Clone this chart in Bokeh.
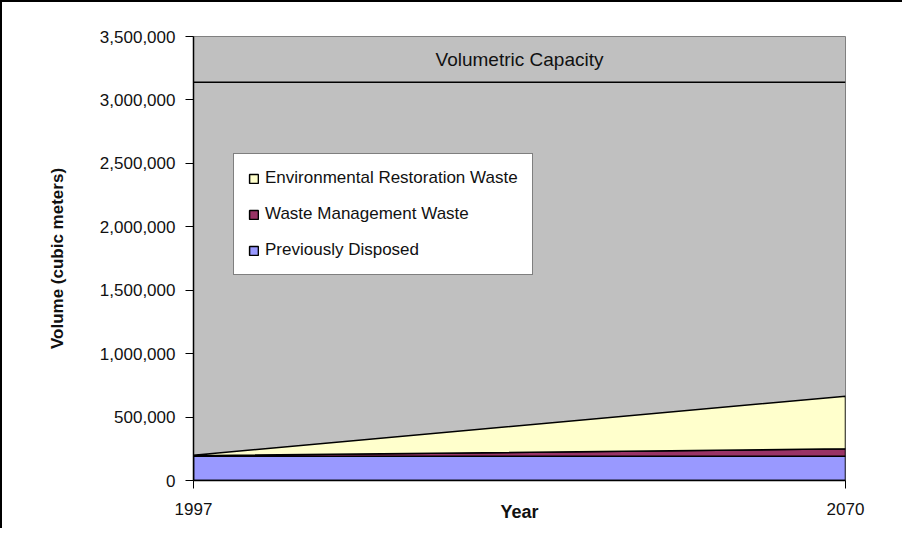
import numpy as np
from bokeh.plotting import figure
from bokeh.models import NumeralTickFormatter, FixedTicker, Legend, LegendItem
from bokeh.core.properties import value
from bokeh.embed import file_html
from bokeh.resources import INLINE

# ---- data ----
years = [1997, 2070]
previously_disposed = [192000, 192000]
waste_management = [3000, 58000]
environmental_restoration = [5000, 415000]
volumetric_capacity = 3140000
y_ticks = [0, 500000, 1000000, 1500000, 2000000, 2500000, 3000000, 3500000]
series_names = ["Previously Disposed", "Waste Management Waste", "Environmental Restoration Waste"]
series_colors = ["#9999FF", "#993366", "#FFFFCC"]

FONT = "Liberation Sans"

p = figure(width=902, height=528, output_backend="svg", toolbar_location=None,
           x_range=(years[0], years[-1]), y_range=(y_ticks[0], y_ticks[-1]),
           min_border_left=191, min_border_top=34, min_border_right=59, min_border_bottom=50)
p.styles = {"border-top": "2px solid black", "border-left": "2px solid black"}
p.background_fill_color = "#C0C0C0"
p.border_fill_color = "white"
p.outline_line_color = "#808080"
p.outline_line_width = 1
p.xgrid.visible = False
p.ygrid.visible = False

# stacked areas
x = np.array(years, dtype=float)
series = [np.array(previously_disposed, float), np.array(waste_management, float),
          np.array(environmental_restoration, float)]
base = np.zeros_like(x)
renderers = []
for vals, name, col in zip(series, series_names, series_colors):
    top = base + vals
    xs = list(x) + list(x[::-1])
    ys = list(top) + list(base[::-1])
    r = p.patch(xs, ys, fill_color=col, line_color="black", line_width=1.5)
    renderers.append((name, r))
    base = top

# capacity line + label
p.line(years, [volumetric_capacity] * len(years), line_color="black", line_width=1.5)
p.text(x=[(years[0] + years[-1]) / 2], y=[(volumetric_capacity + y_ticks[-1]) / 2],
       text=["Volumetric Capacity"], text_align="center", text_baseline="middle",
       text_font=value(FONT), text_font_size="19px", text_color="#111111")

# axes
p.yaxis.ticker = FixedTicker(ticks=y_ticks)
p.yaxis.formatter = NumeralTickFormatter(format="0,0")
p.xaxis.ticker = FixedTicker(ticks=years)
for ax in (p.xaxis[0], p.yaxis[0]):
    ax.major_label_text_font = FONT
    ax.major_label_text_font_size = "17px"
    ax.major_label_text_color = "#111111"
    ax.axis_line_color = "black"
    ax.axis_line_width = 1.5
    ax.major_tick_line_color = "black"
    ax.major_tick_out = 8
    ax.major_tick_in = 0
    ax.minor_tick_out = 0
    ax.minor_tick_in = 0
    ax.axis_label_text_font = FONT
    ax.axis_label_text_font_style = "bold"
    ax.axis_label_text_color = "#111111"
p.yaxis.major_label_standoff = 10
p.xaxis.major_label_standoff = 14
p.yaxis.axis_label = "Volume (cubic meters)"
p.yaxis.axis_label_text_font_size = "17px"
p.yaxis.axis_label_standoff = 30
p.xaxis.axis_label = "Year"
p.xaxis.axis_label_text_font_size = "18px"
p.xaxis.axis_label_standoff = -16

# legend (reverse order: top series first)
items = [LegendItem(label=n, renderers=[r]) for n, r in reversed(renderers)]
legend = Legend(items=items, location=(40, 205), label_text_font=FONT, label_text_font_size="17px",
                label_text_color="#111111", glyph_width=11, glyph_height=11, label_height=20,
                spacing=16, padding=14, label_standoff=6, border_line_color="black",
                border_line_width=1, background_fill_color="white", background_fill_alpha=1.0)
p.add_layout(legend, "center")

open("out.html", "w").write(file_html(p, INLINE))
